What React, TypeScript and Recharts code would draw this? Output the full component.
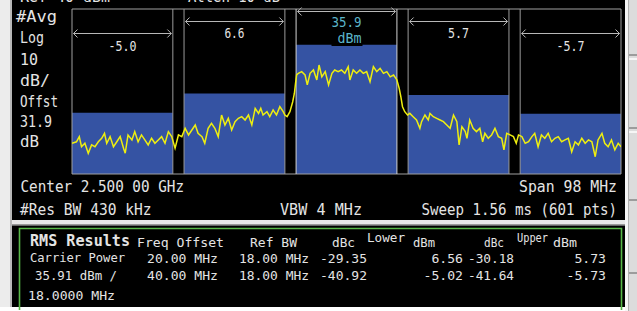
import React from 'react';
import { ComposedChart, Line, XAxis, YAxis, ReferenceArea, ReferenceLine } from 'recharts';

const MONO = '"DejaVu Sans Mono", "Liberation Mono", monospace';

// ---- data ----
const traceFreqMHz = [
  -49.0, -48.2, -47.7, -47.3, -46.7, -46.1, -45.5, -44.9, -44.3, -43.7, -43.2, -42.8, -42.2, -41.6, -41.0, -40.4,
  -39.8, -39.5, -39.0, -38.3, -37.8, -37.2, -36.6, -36.0, -35.4, -34.8, -34.2, -33.6, -33.0, -32.4, -31.8, -31.2,
  -30.6, -30.0, -29.4, -28.8, -28.2, -27.6, -27.0, -26.5, -25.8, -25.3, -24.7, -24.1, -23.5, -22.9, -22.3, -21.7,
  -21.1, -20.5, -19.9, -19.3, -18.7, -18.1, -17.5, -16.9, -16.3, -15.7, -15.3, -14.9, -14.2, -13.7, -13.1, -12.5,
  -11.9, -11.3, -11.0, -10.6, -10.1, -9.6, -9.3, -9.1, -8.9, -8.6, -8.0, -7.4, -7.0, -6.5, -5.9, -5.3,
  -4.9, -4.4, -3.8, -3.2, -2.6, -2.1, -1.5, -0.9, -0.3, 0.3, 0.6, 1.2, 1.8, 2.4, 3.0, 3.6,
  4.2, 4.8, 5.4, 6.0, 6.6, 7.2, 7.8, 8.4, 9.0, 9.4, 9.7, 10.0, 10.4, 10.9, 11.3, 11.9,
  12.5, 13.1, 13.4, 14.0, 14.6, 14.9, 15.5, 16.1, 16.7, 17.3, 17.9, 18.5, 19.1, 19.7, 20.1, 20.6,
  21.2, 21.5, 22.0, 22.6, 23.2, 23.8, 24.3, 24.7, 25.3, 25.9, 26.5, 27.1, 27.7, 28.1, 28.6, 29.2,
  29.8, 30.3, 30.7, 31.3, 31.9, 32.5, 33.1, 33.6, 34.2, 34.8, 35.4, 36.0, 36.6, 37.2, 37.8, 38.4,
  39.0, 39.6, 40.2, 40.8, 41.4, 42.0, 42.6, 43.2, 43.8, 44.4, 44.9, 45.6, 46.1, 46.7, 47.3, 47.9,
  48.5, 49.0,
];
const traceDbm = [
  -23.4, -22.5, -19.4, -25.5, -23.4, -29.4, -24.4, -25.5, -22.5, -20.4, -17.4, -23.4, -19.4, -25.5, -22.5, -19.4,
  -26.4, -29.4, -18.4, -21.4, -16.4, -22.5, -18.4, -21.4, -24.4, -20.4, -23.4, -21.4, -19.4, -23.4, -16.4, -19.4,
  -26.4, -18.4, -19.4, -14.4, -18.4, -15.4, -12.4, -17.4, -19.4, -23.4, -14.4, -11.4, -14.4, -19.4, -6.4, -12.4,
  -8.4, -15.4, -10.4, -8.4, -7.4, -9.4, -6.4, -12.4, -2.4, -5.4, -2.4, -6.4, -4.4, -7.4, -3.4, -6.4,
  -1.4, -4.4, -6.4, -7.4, -4.4, 1.6, 6.7, 12.7, 17.7, 18.7, 19.7, 17.7, 11.7, 18.7, 20.7, 14.7,
  23.7, 16.6, 19.7, 11.7, 18.7, 20.7, 19.7, 20.7, 18.7, 22.7, 14.7, 20.7, 18.7, 20.7, 18.7, 19.7,
  13.6, 22.7, 19.7, 21.7, 18.7, 19.7, 16.6, 17.7, 14.7, 9.7, 4.6, -1.4, -4.4, -6.4, -5.4, -7.4,
  -9.4, -14.4, -10.4, -6.4, -9.4, -5.4, -7.4, -8.4, -9.4, -10.4, -12.4, -14.4, -6.4, -10.4, -24.4, -13.4,
  -16.4, -20.4, -9.4, -14.4, -16.4, -14.4, -22.5, -17.4, -20.4, -18.4, -14.4, -19.4, -20.4, -27.4, -17.4, -18.4,
  -19.4, -23.4, -18.4, -19.4, -23.4, -22.5, -19.4, -17.4, -25.5, -18.4, -20.4, -17.4, -22.5, -20.4, -19.4, -22.5,
  -21.4, -20.4, -28.5, -22.5, -24.4, -20.4, -23.4, -21.4, -22.5, -31.5, -21.4, -17.4, -23.4, -25.5, -21.4, -27.4,
  -23.4, -25.5,
];

const channelStart = [-49, -29, -9, 11, 31];
const channelEnd = [-31, -11, 9, 29, 49];
const channelPowerDbm = [-5.0, 6.6, 35.9, 5.7, -5.7];
const channelLabels = ['-5.0', '6.6', '35.9', '5.7', '-5.7'];
const channelEdges = [-31, -29, -11, -9, 9, 11, 29, 31];

const leftLabels = ['#Avg', 'Log', '10', 'dB/', 'Offst', '31.9', 'dB'];

const offsetLabels = ['20.00 MHz', '40.00 MHz'];
const refBwLabels = ['18.00 MHz', '18.00 MHz'];
const lowerDbc = ['-29.35', '-40.92'];
const lowerDbm = ['6.56', '-5.02'];
const upperDbc = ['-30.18', '-41.64'];
const upperDbm = ['5.73', '-5.73'];

const X_MIN = -49;
const X_MAX = 49;
const Y_MIN = -41.9;
const Y_MAX = 57.4;

// ---- styles / layout ----
const BLUE = '#3553a3';
const ARROW = '#b8b8b8';
const EDGE = '#9a9a9a';
const TXT = '#e4e4e4';
const CYAN = '#5bb5c9';

const annoLayout = [
  { arrowY: 33.5, textY: 50.5, textW: 28 },
  { arrowY: 21.5, textY: 37.5, textW: 20 },
  { arrowY: 11.5, textY: 26.5, textW: 30 },
  { arrowY: 21.5, textY: 37.5, textW: 21 },
  { arrowY: 33.5, textY: 50.5, textW: 28 },
];

function ChannelAnno(props: any) {
  const { viewBox, text, arrowY, textY, textW, main } = props;
  if (!viewBox) return null;
  const x1 = viewBox.x + 1.5;
  const x2 = viewBox.x + viewBox.width - 1.5;
  const cx = viewBox.x + viewBox.width / 2;
  const ah = 4;
  return (
    <g>
      <line x1={x1} y1={arrowY} x2={x2} y2={arrowY} stroke={ARROW} strokeWidth={1} />
      <path d={`M${x1 + ah},${arrowY - ah} L${x1},${arrowY} L${x1 + ah},${arrowY + ah}`} fill="none" stroke={ARROW} strokeWidth={1} />
      <path d={`M${x2 - ah},${arrowY - ah} L${x2},${arrowY} L${x2 - ah},${arrowY + ah}`} fill="none" stroke={ARROW} strokeWidth={1} />
      {main && <rect x={cx - 15} y={30} width={31} height={16} fill="#000" />}
      <text x={cx} y={textY} textAnchor="middle" fontFamily={MONO} fontSize={13.5} fill={main ? CYAN : TXT}
        textLength={textW} lengthAdjust="spacingAndGlyphs">{text}</text>
      {main && (
        <text x={cx + 3} y={42.5} textAnchor="middle" fontFamily={MONO} fontSize={13.5} fill={CYAN}
          textLength={24} lengthAdjust="spacingAndGlyphs">dBm</text>
      )}
    </g>
  );
}

function T(props: any) {
  const { x, y, w, children, size = 13, anchor = 'start', fill = TXT, weight = 'normal' } = props;
  return (
    <text x={x} y={y} fontSize={size} fontFamily={MONO} fill={fill} textAnchor={anchor} fontWeight={weight}
      textLength={w} lengthAdjust="spacingAndGlyphs">{children}</text>
  );
}

const leftLayout = [
  { x: 16, y: 21.5, w: 41 },
  { x: 20, y: 43, w: 24 },
  { x: 20, y: 64.5, w: 18 },
  { x: 20, y: 85.5, w: 30 },
  { x: 20, y: 107, w: 38 },
  { x: 20, y: 127, w: 32 },
  { x: 20, y: 147, w: 19 },
];

export default function App() {
  const data = traceFreqMHz.map((f, i) => ({ f, dbm: traceDbm[i] }));
  return (
    <div style={{ position: 'absolute', left: 0, top: 0, width: 637, height: 311, background: '#ffffff', overflow: 'hidden' }}>
      <svg width={637} height={311} style={{ position: 'absolute', left: 0, top: 0 }}>
        <rect x={0} y={0} width={10} height={311} fill="#ececec" />
        <rect x={10} y={0} width={2} height={308} fill="#b8b8b8" />
        <rect x={12} y={0} width={613} height={220} fill="#000" />
        <rect x={12} y={220} width={613} height={4} fill="#e8e8e8" />
        <rect x={12} y={224} width={613} height={1.5} fill="#9a9a9a" />
        <rect x={12} y={225.5} width={613} height={81.5} fill="#000" />
        <rect x={625} y={0} width={12} height={311} fill="#dcdcdc" />
        <rect x={625} y={0} width={3} height={311} fill="#f6f6f6" />
        <rect x={628} y={0} width={1} height={311} fill="#b0b0b0" />
        <rect x={629} y={54} width={8} height={2} fill="#9c9c9c" />
        <rect x={629} y={58} width={8} height={2} fill="#f6f6f6" />
        <rect x={629} y={127} width={8} height={2} fill="#9c9c9c" />
        <rect x={629} y={131} width={8} height={2} fill="#f6f6f6" />
        <rect x={629} y={199} width={8} height={2} fill="#9c9c9c" />
        <rect x={629} y={272} width={8} height={2} fill="#9c9c9c" />
        <rect x={0} y={307} width={625} height={4} fill="#ffffff" />
        <path d="M19.5,310 L19.5,228.5 L621.5,228.5 L621.5,310" fill="none" stroke="#58b848" strokeWidth={1.6} />
      </svg>
      <div style={{ position: 'absolute', left: 0, top: 0 }}>
        <ComposedChart width={637} height={311} data={data} margin={{ top: 9, right: 16, bottom: 137, left: 72 }}>
          <XAxis type="number" dataKey="f" domain={[X_MIN, X_MAX]} allowDataOverflow hide />
          <YAxis type="number" domain={[Y_MIN, Y_MAX]} allowDataOverflow hide />
          {channelStart.map((s, i) => (
            <ReferenceArea key={`ch${i}`} x1={s} x2={channelEnd[i]} y1={Y_MIN} y2={channelPowerDbm[i]}
              fill={BLUE} fillOpacity={1} stroke="none"
              label={<ChannelAnno text={channelLabels[i]} arrowY={annoLayout[i].arrowY} textY={annoLayout[i].textY}
                textW={annoLayout[i].textW} main={i === 2} />} />
          ))}
          {channelEdges.map((x) => (
            <ReferenceLine key={`e${x}`} x={x} stroke={Math.abs(x) === 9 ? '#d4d4d4' : EDGE} strokeWidth={1} />
          ))}
          <ReferenceArea x1={X_MIN} x2={X_MAX} y1={Y_MIN} y2={Y_MAX} fill="none" fillOpacity={0} stroke="#a0a0a0" strokeWidth={1} />
          <Line type="linear" dataKey="dbm" stroke="#eeee10" strokeWidth={1.5} dot={false} isAnimationActive={false} />
        </ComposedChart>
      </div>
      <svg width={637} height={311} style={{ position: 'absolute', left: 0, top: 0, pointerEvents: 'none' }}>
        <T x={20} y={1.5} w={90} size={15}>Ref 40 dBm</T>
        <T x={188} y={1.5} w={92} size={15}>Atten 10 dB</T>
        {leftLabels.map((l, i) => (
          <T key={l + i} x={leftLayout[i].x} y={leftLayout[i].y} w={leftLayout[i].w} size={15.5}>{l}</T>
        ))}
        <T x={20.5} y={191.5} w={163.5} size={15}>Center 2.500 00 GHz</T>
        <T x={617} y={191.5} w={98} size={15} anchor="end">Span 98 MHz</T>
        <T x={20} y={215} w={131.5} size={15}>#Res BW 430 kHz</T>
        <T x={280} y={215} w={82} size={15}>VBW 4 MHz</T>
        <T x={617} y={215} w={195.5} size={15} anchor="end">Sweep 1.56 ms (601 pts)</T>

        <T x={30} y={246} w={100} size={15} weight="bold">RMS Results</T>
        <T x={137} y={247} w={87} size={12.5}>Freq Offset</T>
        <T x={250} y={247} w={47} size={12.5}>Ref BW</T>
        <T x={332} y={247} w={23} size={12.5}>dBc</T>
        <T x={367} y={242} w={38} size={12}>Lower</T>
        <T x={413} y={247} w={22} size={12.5}>dBm</T>
        <T x={484} y={247} w={20} size={12.5}>dBc</T>
        <T x={517} y={242} w={31} size={12}>Upper</T>
        <T x={553} y={247} w={24} size={12.5}>dBm</T>

        <T x={30} y={262} w={95} size={13}>Carrier Power</T>
        <T x={35} y={280} w={82} size={13}>35.91 dBm /</T>
        <T x={28} y={300} w={87} size={13}>18.0000 MHz</T>
        {offsetLabels.map((o, i) => (
          <g key={`r${i}`}>
            <T x={147} y={262.5 + i * 17} w={71} size={13}>{o}</T>
            <T x={239} y={262.5 + i * 17} w={70} size={13}>{refBwLabels[i]}</T>
            <T x={367} y={262.5 + i * 17} w={47} size={13} anchor="end">{lowerDbc[i]}</T>
            <T x={463} y={262.5 + i * 17} w={lowerDbm[i].length * 7.9} size={13} anchor="end">{lowerDbm[i]}</T>
            <T x={514} y={262.5 + i * 17} w={46} size={13} anchor="end">{upperDbc[i]}</T>
            <T x={606} y={262.5 + i * 17} w={upperDbm[i].length * 7.9} size={13} anchor="end">{upperDbm[i]}</T>
          </g>
        ))}
      </svg>
    </div>
  );
}
